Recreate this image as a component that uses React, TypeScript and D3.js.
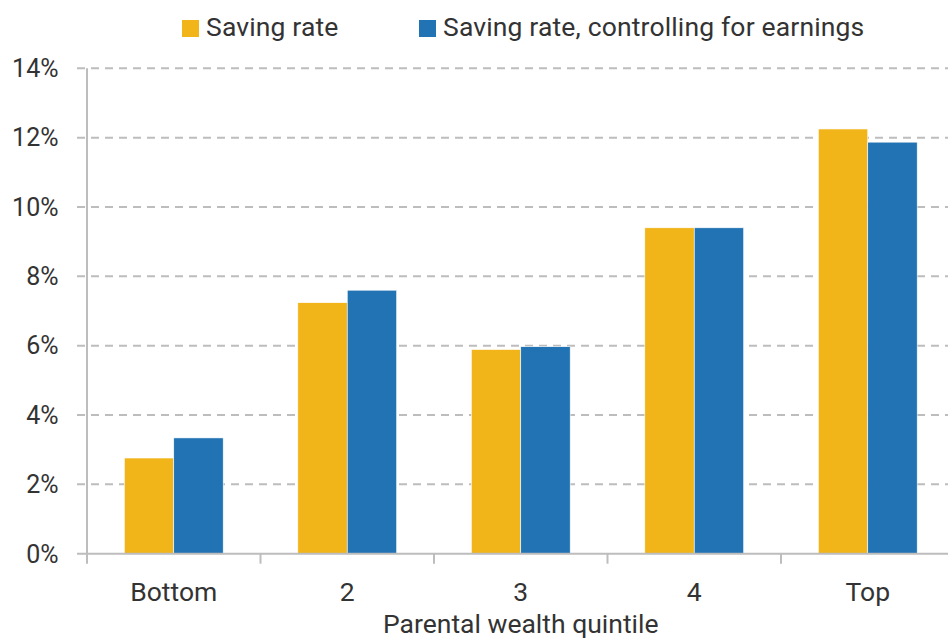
import React from "react";
import * as d3 from "d3";

const categories = ["Bottom", "2", "3", "4", "Top"];
const savingRate = [2.76, 7.24, 5.89, 9.4, 12.25];
const savingRateControlled = [3.34, 7.6, 5.97, 9.4, 11.87];
const seriesNames = ["Saving rate", "Saving rate, controlling for earnings"];
const seriesColors = ["#F1B51A", "#2273B4"];
const yTicks = [0, 2, 4, 6, 8, 10, 12, 14];
const xTitle = "Parental wealth quintile";

const W = 948;
const H = 639;
const M = { left: 87, right: 954.5, top: 68.3, bottom: 553.7 };
const FONT = "Roboto, 'Open Sans', sans-serif";
const TEXT = "#333333";
const GRID = "#BDBDBD";

export default function App() {
  const x = d3.scaleBand<string>().domain(categories).range([M.left, M.right]).padding(0);
  const bw = x.bandwidth();
  const groupW = bw * 0.57;
  const inner = d3
    .scaleBand<string>()
    .domain(["a", "b"])
    .range([0, groupW])
    .padding(0);
  const y = d3.scaleLinear().domain([0, 14]).range([M.bottom, M.top]);
  const series = [savingRate, savingRateControlled];

  return (
    <svg
      width={W}
      height={H}
      style={{ position: "absolute", left: 0, top: 0, display: "block" }}
      fontFamily={FONT}
    >
      <rect x={0} y={0} width={W} height={H} fill="#fff" />
      {/* gridlines */}
      {yTicks.slice(1).map((t) => (
        <line
          key={"g" + t}
          x1={77}
          x2={W}
          y1={y(t)}
          y2={y(t)}
          stroke={GRID}
          strokeWidth={2}
          strokeDasharray="8 6"
        />
      ))}
      {/* y tick labels */}
      {yTicks.map((t) => (
        <text
          key={"yl" + t}
          x={58.5}
          y={y(t) + 8.8}
          textAnchor="end"
          fontSize={25}
          fill={TEXT}
        >
          {t + "%"}
        </text>
      ))}
      {/* bars */}
      {categories.map((c, i) => {
        const gx = (x(c) as number) + (bw - groupW) / 2;
        return series.map((s, j) => (
          <rect
            key={c + j}
            x={gx + (inner(j === 0 ? "a" : "b") as number)}
            y={y(s[i])}
            width={inner.bandwidth()}
            height={y(0) - y(s[i])}
            fill={seriesColors[j]}
            stroke="#fff"
            strokeWidth={0.6}
          />
        ));
      })}
      {/* zero line + y axis */}
      <line x1={77} x2={W} y1={y(0)} y2={y(0)} stroke={GRID} strokeWidth={2} />
      <line x1={M.left} x2={M.left} y1={M.top} y2={y(0) + 10} stroke={GRID} strokeWidth={2} />
      {/* x ticks at band boundaries */}
      {categories.slice(1).map((c) => (
        <line
          key={"xt" + c}
          x1={x(c) as number}
          x2={x(c) as number}
          y1={y(0)}
          y2={y(0) + 10}
          stroke={GRID}
          strokeWidth={2}
        />
      ))}
      {/* x labels */}
      {categories.map((c) => (
        <text
          key={"xl" + c}
          x={(x(c) as number) + bw / 2}
          y={601}
          textAnchor="middle"
          fontSize={26.5}
          fill={TEXT}
        >
          {c}
        </text>
      ))}
      <text x={(M.left + M.right) / 2} y={632.5} textAnchor="middle" fontSize={26.5} fill={TEXT}>
        {xTitle}
      </text>
      {/* legend */}
      {seriesNames.map((n, j) => {
        const lx = j === 0 ? 182 : 419;
        return (
          <g key={"lg" + j}>
            <rect x={lx} y={20} width={17} height={17} fill={seriesColors[j]} />
            <text x={lx + 24} y={36} fontSize={26.5} fill={TEXT} letterSpacing={0.15}>
              {n}
            </text>
          </g>
        );
      })}
    </svg>
  );
}
